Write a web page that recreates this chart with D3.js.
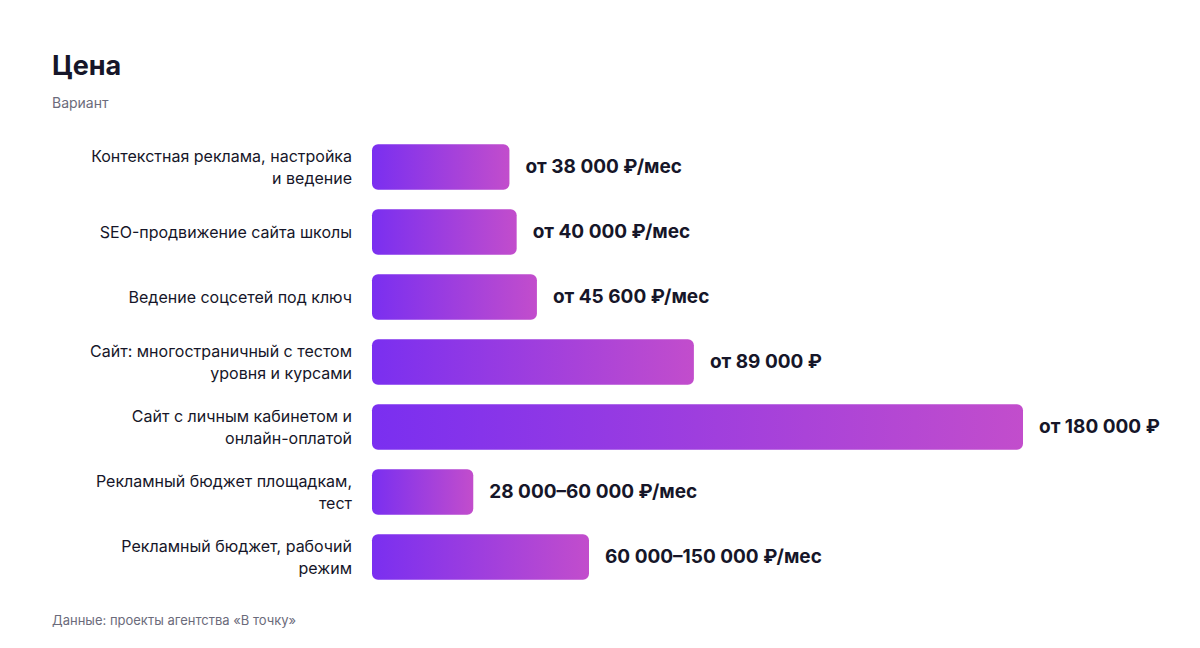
<!DOCTYPE html>
<html><head><meta charset="utf-8">
<script src="https://cdn.jsdelivr.net/npm/d3@7"></script>
<style>body{margin:0;background:#fff;font-family:"Inter","Noto Sans",sans-serif;}</style>
</head><body><svg id="c" width="1200" height="648"></svg>
<script>
const categories = [
  ["Контекстная реклама, настройка","и ведение"],
  ["SEO-продвижение сайта школы"],
  ["Ведение соцсетей под ключ"],
  ["Сайт: многостраничный с тестом","уровня и курсами"],
  ["Сайт с личным кабинетом и","онлайн-оплатой"],
  ["Рекламный бюджет площадкам,","тест"],
  ["Рекламный бюджет, рабочий","режим"]
];
const values = [38000, 40000, 45600, 89000, 180000, 28000, 60000];
const valueLabels = ["от 38 000 ₽/мес","от 40 000 ₽/мес","от 45 600 ₽/мес","от 89 000 ₽","от 180 000 ₽","28 000–60 000 ₽/мес","60 000–150 000 ₽/мес"];

const svg = d3.select("#c");
const defs = svg.append("defs");
const g = defs.append("linearGradient").attr("id","grad").attr("x1","0").attr("x2","1");
g.append("stop").attr("offset","0").attr("stop-color","#7a2ff0");
g.append("stop").attr("offset","1").attr("stop-color","#c24dcc");

svg.append("text").attr("x",52).attr("y",75).attr("font-size",27).attr("font-weight",700).attr("fill","#161629").text("Цена");
svg.append("text").attr("x",52).attr("y",108).attr("font-size",14).attr("fill","#6b6b7b").text("Вариант");
svg.append("text").attr("x",52).attr("y",625).attr("font-size",13).attr("fill","#6b6b7b").text("Данные: проекты агентства «В точку»");

const x = d3.scaleLinear().domain([0,180000]).range([372,1023]);
const y = d3.scaleBand().domain(d3.range(values.length)).range([134.5,589.5]).paddingInner(0.3).paddingOuter(0.15);

const rows = svg.selectAll("g.row").data(values).join("g");
rows.append("rect").attr("x",x(0)).attr("y",(d,i)=>y(i)).attr("width",d=>x(d)-x(0))
  .attr("height",y.bandwidth()).attr("rx",6).attr("fill","url(#grad)");
rows.append("text").attr("x",d=>x(d)+16).attr("y",(d,i)=>y(i)+y.bandwidth()/2+6)
  .attr("font-size",19).attr("font-weight",700).attr("fill","#161629").text((d,i)=>valueLabels[i]);
rows.each(function(d,i){
  const lines = categories[i];
  const cy = y(i)+y.bandwidth()/2;
  const t = d3.select(this).append("text").attr("text-anchor","end").attr("font-size",16).attr("fill","#161629");
  lines.forEach((l,k)=>{
    t.append("tspan").attr("x",352).attr("y",cy+5.5+(k-(lines.length-1)/2)*22).text(l);
  });
});
</script></body></html>
